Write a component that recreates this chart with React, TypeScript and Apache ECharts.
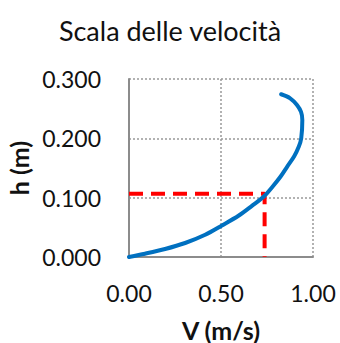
import React, { useEffect, useRef } from "react";
import * as echarts from "echarts";

const velocity = [0, 0.087, 0.196, 0.305, 0.414, 0.505, 0.595, 0.668, 0.733, 0.781, 0.824, 0.86, 0.897, 0.923, 0.936, 0.942, 0.935, 0.913, 0.876, 0.827];
const height = [0, 0.0056, 0.0135, 0.0236, 0.0375, 0.0532, 0.0695, 0.0863, 0.102, 0.1188, 0.1356, 0.1524, 0.1693, 0.1861, 0.2002, 0.2311, 0.2445, 0.2563, 0.2675, 0.2743];
const refV = 0.737;
const refH = 0.1065;

const FONT = "Lato, 'Open Sans', sans-serif";

export default function App() {
  const ref = useRef<HTMLDivElement>(null);
  useEffect(() => {
    const chart = echarts.init(ref.current!, null, { renderer: "svg" });
    chart.setOption({
      animation: false,
      title: {
        text: "Scala delle velocità",
        left: "center",
        top: 12,
        textStyle: { fontFamily: FONT, fontSize: 27, fontWeight: "normal", color: "#111" },
      },
      grid: { left: 129, right: 27, top: 79, bottom: 86, containLabel: false, outerBoundsMode: "none" },
      xAxis: {
        type: "value",
        min: 0,
        max: 1,
        interval: 0.5,
        name: "V (m/s)",
        nameLocation: "middle",
        nameGap: 60,
        nameTextStyle: { fontFamily: FONT, fontSize: 25, fontWeight: "bold", color: "#111" },
        axisLine: { show: true, lineStyle: { color: "#8c8c8c", width: 2 } },
        axisTick: { show: false },
        axisLabel: {
          fontFamily: FONT,
          fontSize: 23,
          color: "#111",
          margin: 24,
          formatter: (v: number) => v.toFixed(2),
        },
        splitLine: { show: true, lineStyle: { color: "#999", type: [2, 2], width: 1.5 } },
      },
      yAxis: {
        type: "value",
        min: 0,
        max: 0.3,
        interval: 0.1,
        name: "h (m)",
        nameLocation: "middle",
        nameGap: 95,
        nameTextStyle: { fontFamily: FONT, fontSize: 25, fontWeight: "bold", color: "#111" },
        axisLine: { show: true, lineStyle: { color: "#8c8c8c", width: 2 } },
        axisTick: { show: false },
        axisLabel: {
          fontFamily: FONT,
          fontSize: 23,
          color: "#111",
          margin: 28,
          formatter: (v: number) => v.toFixed(3),
        },
        splitLine: { show: true, lineStyle: { color: "#999", type: [2, 2], width: 1.5 } },
      },
      series: [
        {
          type: "line",
          data: [
            [0, refH],
            [refV, refH],
            [refV, 0],
          ],
          symbol: "none",
          lineStyle: { color: "#ff0000", width: 4, type: [14, 8] },
          z: 2,
        },
        {
          type: "line",
          data: velocity.map((v, i) => [v, height[i]]),
          smooth: 0.3,
          symbol: "none",
          lineStyle: { color: "#0070c0", width: 4, cap: "round" },
          z: 3,
        },
      ],
    });
    return () => chart.dispose();
  }, []);
  return <div ref={ref} style={{ width: 340, height: 343, position: "absolute", left: 0, top: 0 }} />;
}
